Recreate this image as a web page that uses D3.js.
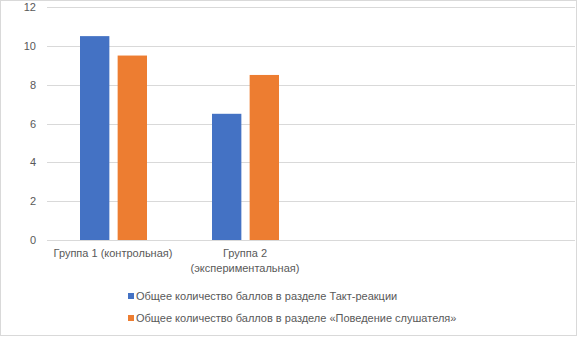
<!DOCTYPE html>
<html lang="ru">
<head>
    <meta charset="UTF-8">
    <title>Группы</title>
    <script src="https://d3js.org/d3.v7.min.js"></script>
    <style>
        body { margin: 0; background: #fff; }
        text { font-family: "Liberation Sans", Arial, sans-serif; fill: #595959; }
    </style>
</head>
<body>
<div id="chart"></div>
<script>
    // categories (last two slots are empty, like in the original sheet)
    var categories = ["Группа 1 (контрольная)", "Группа 2|(экспериментальная)", "", ""];
    var seriesNames = [
        "Общее количество баллов в разделе Такт-реакции",
        "Общее количество баллов в разделе «Поведение слушателя»"
    ];
    var takt = [10.5, 6.5, null, null];
    var behaviour = [9.5, 8.5, null, null];
    var yTicks = [0, 2, 4, 6, 8, 10, 12];
    var colors = ["#4472C4", "#ED7D31"];

    var W = 577, H = 337;
    var margin = { top: 7, right: 2, bottom: 97, left: 47 };
    var height = 240 - margin.top;

    var svg = d3.select("#chart").append("svg")
        .attr("width", W).attr("height", H);

    // outer frame
    svg.append("rect")
        .attr("x", 0.5).attr("y", 0.5)
        .attr("width", 576).attr("height", 335)
        .attr("fill", "#fff").attr("stroke", "#d9d9d9");

    var g = svg.append("g")
        .attr("transform", "translate(" + margin.left + "," + margin.top + ")");

    var x = d3.scaleBand()
        .domain(d3.range(categories.length))
        .range([0, 528]);

    var y = d3.scaleLinear().domain([0, 12]).range([height, 0]);

    // gridlines
    g.selectAll(".grid")
        .data(yTicks)
        .enter().append("line")
        .attr("x1", 0).attr("x2", 528)
        .attr("y1", function(d) { return Math.round(y(d)) + 0.5; })
        .attr("y2", function(d) { return Math.round(y(d)) + 0.5; })
        .attr("stroke", "#d9d9d9");

    // y tick labels
    g.selectAll(".ylab")
        .data(yTicks)
        .enter().append("text")
        .attr("x", -11)
        .attr("y", function(d) { return y(d) + 4; })
        .attr("text-anchor", "end")
        .style("font-size", "11px")
        .text(function(d) { return d; });

    var inner = d3.scaleBand()
        .domain([0, 1])
        .range([33, 100])
        .paddingInner(0.22);

    var rows = [];
    categories.forEach(function(c, i) {
        [takt, behaviour].forEach(function(s, j) {
            if (s[i] != null) rows.push({ cat: i, s: j, v: s[i] });
        });
    });

    g.selectAll(".bar")
        .data(rows)
        .enter().append("rect")
        .attr("x", function(d) { return x(d.cat) + inner(d.s); })
        .attr("width", inner.bandwidth())
        .attr("y", function(d) { return y(d.v); })
        .attr("height", function(d) { return height - y(d.v); })
        .attr("fill", function(d) { return colors[d.s]; });

    // category labels
    categories.forEach(function(c, i) {
        var lines = c ? c.split("|") : [];
        lines.forEach(function(l, k) {
            g.append("text")
                .attr("x", x(i) + x.bandwidth() / 2)
                .attr("y", height + 17 + k * 15)
                .attr("text-anchor", "middle")
                .style("font-size", "11px")
                .text(l);
        });
    });

    // legend
    var lg = svg.append("g").attr("transform", "translate(128,0)");
    seriesNames.forEach(function(n, i) {
        var yy = 300 + i * 22;
        lg.append("rect")
            .attr("x", 0).attr("y", yy - 7)
            .attr("width", 6).attr("height", 6)
            .attr("fill", colors[i]);
        lg.append("text")
            .attr("x", 8).attr("y", yy)
            .style("font-size", "11px")
            .text(n);
    });
</script>
</body>
</html>
